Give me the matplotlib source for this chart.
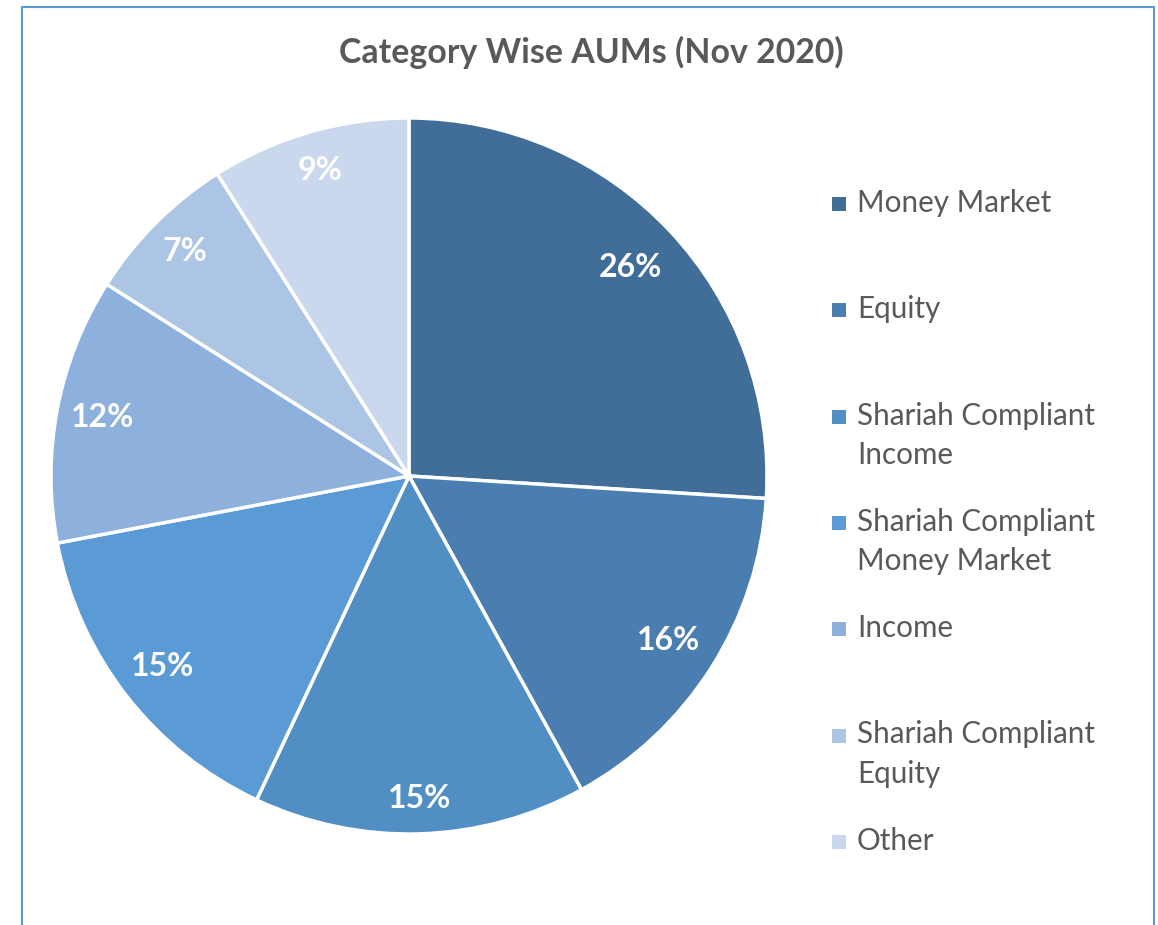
import numpy as np
import matplotlib.pyplot as plt
from matplotlib.patches import Rectangle

categories = ["Money Market", "Equity", "Shariah Compliant\nIncome",
              "Shariah Compliant\nMoney Market", "Income",
              "Shariah Compliant\nEquity", "Other"]
shares = [26, 16, 15, 15, 12, 7, 9]
colors = ["#416E99", "#4A7EB0", "#518EC4", "#5B9BD5", "#8DB0DC", "#ADC5E5", "#C9D8EC"]
# label distance from centre (fraction of radius), Excel "best fit" look
label_r = [0.85, 0.86, 0.90, 0.87, 0.87, 0.885, 0.89]

plt.rcParams['font.family'] = ['Lato', 'DejaVu Sans']

W, H = 1158, 925
fig = plt.figure(figsize=(W / 100, H / 100), dpi=100)

# outer chart border (bottom runs off the image)
fig.patches.append(Rectangle((22 / W, -0.01), (1154 - 22) / W, (H - 7) / H + 0.01,
                             transform=fig.transFigure, fill=False,
                             edgecolor="#5B9BD5", linewidth=1.5))

# pie: centre (409, 476), radius 358 px
cx, cy, r = 409, 476, 358
ax = fig.add_axes([(cx - r) / W, (H - cy - r) / H, 2 * r / W, 2 * r / H])
wedges, texts, autotexts = ax.pie(
    shares, colors=colors, startangle=90, counterclock=False,
    autopct=lambda p: f"{p:.0f}%", pctdistance=0.88, radius=1,
    wedgeprops=dict(edgecolor="white", linewidth=2.5),
    textprops=dict(color="white", fontsize=23, fontweight="bold"))
for w, t, d in zip(wedges, autotexts, label_r):
    ang = np.deg2rad((w.theta1 + w.theta2) / 2)
    t.set_position((d * np.cos(ang), d * np.sin(ang)))
ax.set_xlim(-1, 1)
ax.set_ylim(-1, 1)
ax.set_aspect("auto")
ax.axis("off")

fig.text(591 / W, 1 - 52 / H, "Category Wise AUMs (Nov 2020)", ha="center", va="center",
         fontsize=24.4, fontweight="bold", color="#595959")

# legend, Excel style: equal spacing per entry, marker on first line
y0, step, line_h = 212, 106.3, 39
for i, (lab, col) in enumerate(zip(categories, colors)):
    y = y0 + i * step
    fig.patches.append(Rectangle((832 / W, 1 - (y - 1) / H), 14 / W, 14 / H,
                                 transform=fig.transFigure, facecolor=col, edgecolor="none"))
    for j, line in enumerate(lab.split("\n")):
        fig.text(857 / W, 1 - (y + j * line_h) / H, line, ha="left", va="baseline",
                 fontsize=21.3, color="#595959")

fig.savefig("out.png", dpi=100)
